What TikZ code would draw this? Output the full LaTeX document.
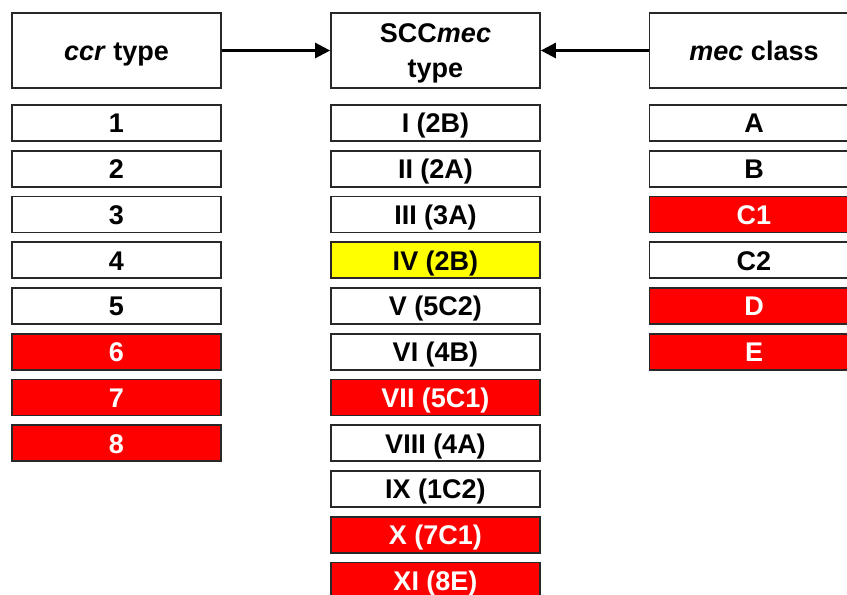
\documentclass[tikz,border=0pt]{standalone}
\usepackage{fontspec}
\setmainfont{Liberation Sans}
\usetikzlibrary{arrows.meta}
\definecolor{boxred}{RGB}{255,0,0}
\definecolor{boxyellow}{RGB}{255,255,0}
\definecolor{edge}{RGB}{40,40,40}
\tikzset{
  cell/.style={draw=edge, line width=1.7pt, fill=white, minimum width=209pt, minimum height=36pt, inner sep=0pt, text height=19.5pt, text depth=0pt, font=\fontsize{27}{35}\selectfont\bfseries, text=black},
  head/.style={cell, minimum height=74.5pt},
  head2/.style={draw=edge, line width=1.7pt, fill=white, minimum width=209pt, minimum height=74.5pt, inner sep=0pt, align=center, text depth=0pt, font=\fontsize{27}{35}\selectfont\bfseries},
  redcell/.style={cell, fill=boxred, text=white},
  yelcell/.style={cell, fill=boxyellow},
  link/.style={line width=2.6pt, -{Triangle[length=15pt,width=15pt]}}
}
\begin{document}
\begin{tikzpicture}[x=1pt,y=-1pt]
\useasboundingbox (0,0) rectangle (847,595);
\clip (0,0) rectangle (847,595);
% headers
\node[head] (hccr) at (116.5,50.5) {\textit{ccr} type};
\node[head2] (hscc) at (435.5,50.5) {SCC\textit{mec}\\type};
\node[head] (hmec) at (754,50.5) {\textit{mec} class};
\draw[link] (hccr.east) -- (hscc.west);
\draw[link] (hmec.west) -- (hscc.east);
% ccr column
\node[cell] (c1) at (116.5,123) {1};
\node[cell] (c2) at (116.5,168.75) {2};
\node[cell] (c3) at (116.5,214.5) {3};
\node[cell] (c4) at (116.5,260.25) {4};
\node[cell] (c5) at (116.5,306) {5};
\node[redcell] (c6) at (116.5,351.75) {6};
\node[redcell] (c7) at (116.5,397.5) {7};
\node[redcell] (c8) at (116.5,443.25) {8};
% SCCmec column
\node[cell] (s1) at (435.5,123) {I (2B)};
\node[cell] (s2) at (435.5,168.75) {II (2A)};
\node[cell] (s3) at (435.5,214.5) {III (3A)};
\node[yelcell] (s4) at (435.5,260.25) {IV (2B)};
\node[cell] (s5) at (435.5,306) {V (5C2)};
\node[cell] (s6) at (435.5,351.75) {VI (4B)};
\node[redcell] (s7) at (435.5,397.5) {VII (5C1)};
\node[cell] (s8) at (435.5,443.25) {VIII (4A)};
\node[cell] (s9) at (435.5,489) {IX (1C2)};
\node[redcell] (s10) at (435.5,534.75) {X (7C1)};
\node[redcell] (s11) at (435.5,580.5) {XI (8E)};
% mec column
\node[cell] (m1) at (754,123) {A};
\node[cell] (m2) at (754,168.75) {B};
\node[redcell] (m3) at (754,214.5) {C1};
\node[cell] (m4) at (754,260.25) {C2};
\node[redcell] (m5) at (754,306) {D};
\node[redcell] (m6) at (754,351.75) {E};
\end{tikzpicture}
\end{document}
